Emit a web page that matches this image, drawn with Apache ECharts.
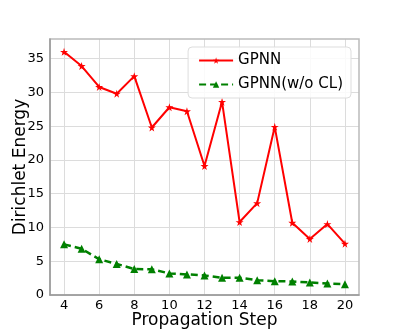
<!DOCTYPE html>
<html>
<head>
<meta charset="utf-8">
<script src="https://cdn.jsdelivr.net/npm/echarts@6/dist/echarts.min.js"></script>
<style>
  html, body { margin: 0; padding: 0; background: #fff; }
  #chart { width: 399px; height: 332px; }
</style>
</head>
<body>
<div id="chart"></div>
<script>
// propagation steps and energy values
var steps = [4, 5, 6, 7, 8, 9, 10, 11, 12, 13, 14, 15, 16, 17, 18, 19, 20];
var gpnn = [36.0, 33.9, 30.8, 29.8, 32.4, 24.8, 27.8, 27.2, 19.1, 28.6, 10.8, 13.6, 24.9, 10.7, 8.3, 10.5, 7.6];
var gpnnNoCL = [7.5, 6.85, 5.3, 4.6, 3.85, 3.8, 3.2, 3.05, 2.9, 2.55, 2.55, 2.2, 2.05, 2.0, 1.85, 1.7, 1.6];
var xTicks = [4, 6, 8, 10, 12, 14, 16, 18, 20];
var yTicks = [0, 5, 10, 15, 20, 25, 30, 35];

var star = 'path://M50,0 L61,35 L98,35 L68,57 L79,91 L50,70 L21,91 L32,57 L2,35 L39,35 Z';

function pairs(ys) {
  return steps.map(function (s, i) { return [s, ys[i]]; });
}

var chart = echarts.init(document.getElementById('chart'));

var option = {
  backgroundColor: '#ffffff',
  animation: false,
  textStyle: { fontFamily: 'DejaVu Sans' },
  grid: { left: 50, top: 39, right: 40, bottom: 37, outerBoundsMode: 'none', containLabel: false },
  legend: {
    right: 48, top: 47,
    orient: 'vertical',
    itemWidth: 34, itemHeight: 8,
    itemGap: 9,
    padding: [6, 8, 6, 10],
    borderColor: '#dddddd', borderWidth: 1, borderRadius: 4,
    backgroundColor: 'rgba(255,255,255,0.85)',
    textStyle: { fontSize: 15, color: '#000' },
    data: ['GPNN', 'GPNN(w/o CL)']
  },
  xAxis: {
    type: 'value',
    min: 3.2, max: 20.8,
    name: 'Propagation Step',
    nameLocation: 'middle',
    nameGap: 17,
    nameMoveOverlap: false,
    nameTextStyle: { fontSize: 17, color: '#000' },
    axisLine: { onZero: false, lineStyle: { color: '#999', width: 1.5 } },
    axisTick: { show: false, customValues: xTicks },
    axisLabel: { customValues: xTicks, fontSize: 13, color: '#000', margin: 4 },
    splitLine: { show: true, lineStyle: { color: '#dcdcdc', width: 1 } }
  },
  yAxis: {
    type: 'value',
    min: 0, max: 37.9,
    name: 'Dirichlet Energy',
    nameLocation: 'middle',
    nameGap: 21,
    nameMoveOverlap: false,
    nameTextStyle: { fontSize: 17, color: '#000' },
    axisLine: { show: true, lineStyle: { color: '#999', width: 1.5 } },
    axisTick: { show: false, customValues: yTicks },
    axisLabel: { customValues: yTicks, fontSize: 13, color: '#000', margin: 6 },
    splitLine: { show: true, lineStyle: { color: '#dcdcdc', width: 1 } }
  },
  series: [
    {
      name: 'GPNN',
      type: 'line',
      data: pairs(gpnn),
      symbol: star,
      symbolSize: 8,
      showAllSymbol: true,
      color: '#ff0000',
      lineStyle: { color: '#ff0000', width: 2 },
      itemStyle: { color: '#ff0000' }
    },
    {
      name: 'GPNN(w/o CL)',
      type: 'line',
      data: pairs(gpnnNoCL),
      symbol: 'triangle',
      symbolSize: 8,
      showAllSymbol: true,
      color: '#008000',
      lineStyle: { color: '#008000', width: 2.5, type: [7, 4] },
      itemStyle: { color: '#008000' }
    }
  ]
};

chart.setOption(option);

// matplotlib-style frame on top and right
chart.setOption({
  graphic: [{
    type: 'rect',
    shape: { x: 50, y: 39, width: 309, height: 256 },
    style: { fill: 'none', stroke: '#bbb', lineWidth: 1.5 },
    silent: true, z: 0
  }]
});
</script>
</body>
</html>
